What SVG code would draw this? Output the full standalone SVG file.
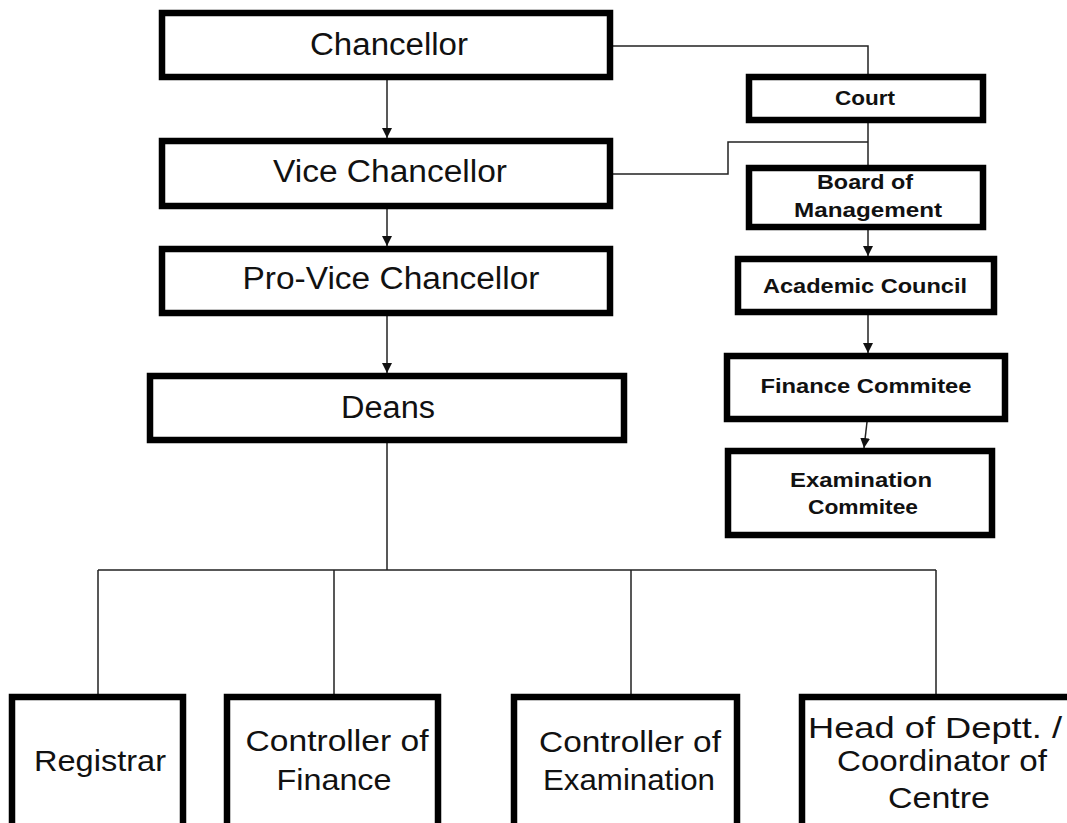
<svg xmlns="http://www.w3.org/2000/svg" width="1067" height="823" viewBox="0 0 1067 823">
<style>
.box{fill:#fff;stroke:#000;stroke-width:6.5}
.t{font-family:"Liberation Sans",Arial,sans-serif;font-size:31px;fill:#111;text-anchor:middle}
.b{font-family:"Liberation Sans",Arial,sans-serif;font-size:29px;fill:#111;text-anchor:middle}
.s{font-family:"Liberation Sans",Arial,sans-serif;font-size:20px;font-weight:bold;fill:#111;text-anchor:middle}
.c{fill:none;stroke:#222;stroke-width:1.5}
.a{marker-end:url(#arr)}
</style>
<defs>
<marker id="arr" viewBox="0 0 10 10" refX="10" refY="5" markerWidth="10" markerHeight="10" markerUnits="userSpaceOnUse" orient="auto">
<path d="M0,0 L10,5 L0,10 z" fill="#111"/>
</marker>
</defs>
<rect width="1067" height="823" fill="#fff"/>
<g id="connectors">
<path class="c a" d="M387,80 V138"/>
<path class="c a" d="M387,209 V246"/>
<path class="c a" d="M387,316 V373"/>
<path class="c" d="M387,443 V570 M98,570 H936 M98,570 V694 M334,570 V694 M631,570 V694 M936,570 V694"/>
<path class="c" d="M613,46 H868 V74"/>
<path class="c" d="M868,123 V165"/>
<path class="c" d="M613,174 H728 V142 H868"/>
<path class="c a" d="M868,230 V256"/>
<path class="c a" d="M868,315 V353"/>
<path class="c a" d="M867,422 L864,448"/>
</g>
<g id="chancellor">
<rect class="box" x="162" y="13" width="448" height="64"/>
<text class="t" x="389" y="55" textLength="158" lengthAdjust="spacingAndGlyphs">Chancellor</text>
</g>
<g id="vice-chancellor">
<rect class="box" x="162" y="141" width="448" height="65"/>
<text class="t" x="390" y="182" textLength="234" lengthAdjust="spacingAndGlyphs">Vice Chancellor</text>
</g>
<g id="pro-vice-chancellor">
<rect class="box" x="162" y="249" width="448" height="64"/>
<text class="t" x="391" y="289" textLength="297" lengthAdjust="spacingAndGlyphs">Pro-Vice Chancellor</text>
</g>
<g id="deans">
<rect class="box" x="150" y="376" width="474" height="64"/>
<text class="t" x="388" y="418" textLength="94" lengthAdjust="spacingAndGlyphs">Deans</text>
</g>
<g id="court">
<rect class="box" x="749" y="77" width="234" height="43"/>
<text class="s" x="865" y="105" textLength="60" lengthAdjust="spacingAndGlyphs">Court</text>
</g>
<g id="board-of-management">
<rect class="box" x="749" y="168" width="234" height="59"/>
<text class="s" x="865" y="189" textLength="96" lengthAdjust="spacingAndGlyphs">Board of</text>
<text class="s" x="868" y="217" textLength="148" lengthAdjust="spacingAndGlyphs">Management</text>
</g>
<g id="academic-council">
<rect class="box" x="738" y="259" width="256" height="53"/>
<text class="s" x="865" y="293" textLength="204" lengthAdjust="spacingAndGlyphs">Academic Council</text>
</g>
<g id="finance-commitee">
<rect class="box" x="727" y="356" width="278" height="63"/>
<text class="s" x="866" y="393" textLength="211" lengthAdjust="spacingAndGlyphs">Finance Commitee</text>
</g>
<g id="examination-commitee">
<rect class="box" x="728" y="451" width="264" height="84"/>
<text class="s" x="861" y="487" textLength="142" lengthAdjust="spacingAndGlyphs">Examination</text>
<text class="s" x="863" y="514" textLength="110" lengthAdjust="spacingAndGlyphs">Commitee</text>
</g>
<g id="registrar">
<rect class="box" x="12" y="697" width="171" height="150"/>
<text class="b" x="100" y="771" textLength="132" lengthAdjust="spacingAndGlyphs">Registrar</text>
</g>
<g id="controller-of-finance">
<rect class="box" x="227" y="697" width="211" height="150"/>
<text class="b" x="337" y="751" textLength="183" lengthAdjust="spacingAndGlyphs">Controller of</text>
<text class="b" x="334" y="790" textLength="115" lengthAdjust="spacingAndGlyphs">Finance</text>
</g>
<g id="controller-of-examination">
<rect class="box" x="514" y="697" width="223" height="150"/>
<text class="b" x="630" y="752" textLength="182" lengthAdjust="spacingAndGlyphs">Controller of</text>
<text class="b" x="629" y="790" textLength="172" lengthAdjust="spacingAndGlyphs">Examination</text>
</g>
<g id="head-of-deptt">
<rect class="box" x="802" y="697" width="280" height="150"/>
<text class="b" x="935" y="738" textLength="254" lengthAdjust="spacingAndGlyphs">Head of Deptt. /</text>
<text class="b" x="942" y="771" textLength="210" lengthAdjust="spacingAndGlyphs">Coordinator of</text>
<text class="b" x="939" y="808" textLength="102" lengthAdjust="spacingAndGlyphs">Centre</text>
</g>
</svg>
